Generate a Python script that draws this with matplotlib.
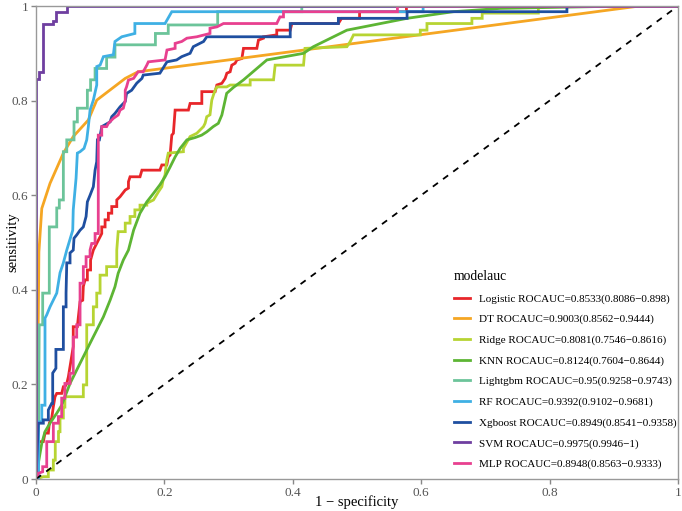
import matplotlib
matplotlib.use("Agg")
import matplotlib.pyplot as plt

plt.rcParams['font.family'] = ['Liberation Serif', 'DejaVu Serif']

model_names = ["Logistic", "DT", "Ridge", "KNN", "Lightgbm", "RF", "Xgboost", "SVM", "MLP"]
auc_vals = ["0.8533", "0.9003", "0.8081", "0.8124", "0.95", "0.9392", "0.8949", "0.9975", "0.8948"]
ci_low = ["0.8086", "0.8562", "0.7546", "0.7604", "0.9258", "0.9102", "0.8541", "0.9946", "0.8563"]
ci_high = ["0.898", "0.9444", "0.8616", "0.8644", "0.9743", "0.9681", "0.9358", "1", "0.9333"]
colors = ["#e8262a", "#f5a623", "#b7d433", "#5db534", "#6cc49a", "#3fb0e4", "#1f4fa0", "#6f3fa0", "#e8408f"]

# ROC curve vertices (fpr, tpr)
fpr_logistic = [0, 0, 0.0114, 0.014, 0.0192, 0.0207, 0.0245, 0.027, 0.0296, 0.0323, 0.040, 0.0426, 0.045, 0.0479,
                0.0504, 0.058, 0.058, 0.0644, 0.066, 0.0686, 0.0728, 0.0737, 0.0764, 0.08, 0.08, 0.085, 0.085, 0.0893,
                0.1024, 0.1024, 0.1076, 0.1076, 0.1127, 0.1127, 0.118, 0.118, 0.1258, 0.1258, 0.131, 0.139, 0.144,
                0.144, 0.1465, 0.162, 0.165, 0.193, 0.196, 0.2037, 0.206, 0.2089, 0.2115, 0.214, 0.2167, 0.2374,
                0.240, 0.2583, 0.2583, 0.279, 0.2817, 0.2895, 0.2946, 0.2973, 0.3024, 0.305, 0.3102, 0.3129, 0.3207,
                0.3232, 0.344, 0.3465, 0.3543, 0.3543, 0.375, 0.375, 0.396, 0.3986, 0.471, 0.476, 0.504, 0.504,
                0.577, 0.577, 1]
tpr_logistic = [0, 0.079, 0.079, 0.097, 0.097, 0.118, 0.129, 0.153, 0.174, 0.181, 0.181, 0.195, 0.195, 0.202,
                0.216, 0.280, 0.322, 0.322, 0.343, 0.375, 0.378, 0.407, 0.421, 0.421, 0.442, 0.442, 0.463, 0.484,
                0.519, 0.533, 0.533, 0.548, 0.548, 0.562, 0.562, 0.576, 0.576, 0.590, 0.597, 0.611, 0.615,
                0.6285, 0.639, 0.639, 0.653, 0.653, 0.664, 0.664, 0.681, 0.685, 0.727, 0.731, 0.780, 0.780,
                0.794, 0.794, 0.819, 0.819, 0.833, 0.8366, 0.847, 0.858, 0.861, 0.875, 0.879, 0.886, 0.889,
                0.9105, 0.9105, 0.928, 0.932, 0.935, 0.939, 0.949, 0.949, 0.963, 0.963, 0.974, 0.974, 0.988,
                0.988, 1, 1]

fpr_dt = [0, 0.0036, 0.0045, 0.009, 0.0218, 0.0426, 0.058, 0.0815, 0.0946, 0.139, 0.159, 0.94, 1]
tpr_dt = [0, 0.35, 0.48, 0.572, 0.625, 0.689, 0.724, 0.759, 0.801, 0.847, 0.861, 1, 1]

fpr_ridge = [0, 0.0114, 0.0192, 0.0192, 0.027, 0.027, 0.030, 0.030, 0.035, 0.035, 0.0374, 0.0374, 0.0426, 0.0426,
             0.045, 0.045, 0.0737, 0.0737, 0.079, 0.079, 0.0893, 0.0893, 0.0946, 0.0946, 0.0998, 0.0998, 0.110,
             0.110, 0.1258, 0.1258, 0.128, 0.139, 0.139, 0.1465, 0.1465, 0.154, 0.154, 0.162, 0.162, 0.1726,
             0.1726, 0.183, 0.1906, 0.196, 0.198, 0.201, 0.2037, 0.206, 0.2296, 0.2296, 0.240, 0.2505, 0.2556,
             0.2608, 0.2634, 0.266, 0.271, 0.2738, 0.2764, 0.279, 0.2817, 0.297, 0.3024, 0.3336, 0.3336, 0.370,
             0.3725, 0.4167, 0.419, 0.4843, 0.4895, 0.4946, 0.5986, 0.5986, 0.609, 0.609, 0.679, 0.679, 0.695,
             0.695, 0.7825, 0.7825, 1]
tpr_ridge = [0, 0.005, 0.005, 0.019, 0.019, 0.040, 0.040, 0.079, 0.079, 0.100, 0.100, 0.129, 0.129, 0.152,
             0.152, 0.174, 0.174, 0.199, 0.199, 0.326, 0.326, 0.364, 0.364, 0.393, 0.393, 0.431, 0.431,
             0.449, 0.449, 0.484, 0.523, 0.523, 0.541, 0.541, 0.555, 0.555, 0.569, 0.569, 0.579, 0.579,
             0.583, 0.590, 0.607, 0.618, 0.632, 0.643, 0.674, 0.689, 0.692, 0.699, 0.724, 0.731, 0.738,
             0.745, 0.752, 0.766, 0.770, 0.801, 0.812, 0.822, 0.829, 0.829, 0.833, 0.833, 0.844, 0.844,
             0.875, 0.875, 0.9105, 0.914, 0.925, 0.939, 0.939, 0.949, 0.949, 0.963, 0.963, 0.974, 0.974,
             0.985, 0.985, 1, 1]

fpr_knn = [0, 0.0036, 0.009, 0.014, 0.0218, 0.0323, 0.040, 0.053, 0.0686, 0.0842, 0.0946, 0.105, 0.1154, 0.123,
           0.128, 0.136, 0.144, 0.152, 0.162, 0.1726, 0.183, 0.193, 0.201, 0.209, 0.2167, 0.2245, 0.235, 0.248,
           0.258, 0.266, 0.276, 0.284, 0.2895, 0.297, 0.3076, 0.323, 0.3596, 0.4167, 0.432, 0.4843, 0.578, 0.650,
           0.723, 0.879, 1]
tpr_knn = [0, 0.033, 0.0755, 0.100, 0.118, 0.139, 0.156, 0.202, 0.2446, 0.287, 0.315, 0.343, 0.378, 0.4066,
           0.435, 0.463, 0.484, 0.526, 0.562, 0.586, 0.604, 0.622, 0.639, 0.660, 0.681, 0.699, 0.717, 0.722,
           0.727, 0.734, 0.745, 0.752, 0.7696, 0.8154, 0.828, 0.8436, 0.886, 0.900, 0.914, 0.949, 0.974, 0.988,
           0.995, 0.999, 1]

fpr_lgbm = [0, 0.004, 0.005, 0.0104, 0.0104, 0.0207, 0.0207, 0.0323, 0.0323, 0.0363, 0.0363, 0.0426, 0.0426,
            0.0479, 0.0479, 0.0592, 0.0592, 0.0644, 0.0644, 0.080, 0.080, 0.085, 0.085, 0.092, 0.092, 0.110, 0.110,
            0.123, 0.123, 0.186, 0.186, 0.206, 0.206, 0.283, 0.283, 0.414, 0.414, 1]
tpr_lgbm = [0, 0.12, 0.326, 0.326, 0.393, 0.393, 0.533, 0.533, 0.573, 0.573, 0.590, 0.590, 0.692,
            0.692, 0.717, 0.717, 0.755, 0.755, 0.784, 0.784, 0.822, 0.822, 0.844, 0.844, 0.868, 0.868, 0.892,
            0.892, 0.918, 0.918, 0.942, 0.942, 0.960, 0.960, 0.988, 0.988, 1, 1]

fpr_rf = [0, 0.004, 0.004, 0.009, 0.009, 0.014, 0.014, 0.0167, 0.0218, 0.0323, 0.0374, 0.0426, 0.0479, 0.0572,
          0.058, 0.0624, 0.0644, 0.0686, 0.0748, 0.079, 0.0815, 0.0842, 0.0893, 0.0946, 0.0946, 0.0998, 0.105,
          0.1205, 0.123, 0.1336, 0.154, 0.154, 0.201, 0.2115, 0.603, 0.603, 1]
tpr_rf = [0, 0, 0.121, 0.121, 0.156, 0.156, 0.340, 0.347, 0.364, 0.393, 0.436, 0.457, 0.484, 0.526,
          0.569, 0.636, 0.689, 0.692, 0.699, 0.717, 0.745, 0.780, 0.801, 0.833, 0.872, 0.875, 0.893,
          0.897, 0.925, 0.935, 0.942, 0.963, 0.963, 0.988, 0.988, 1, 1]

fpr_xgb = [0, 0.0036, 0.0114, 0.0114, 0.0192, 0.0192, 0.0245, 0.026, 0.026, 0.031, 0.031, 0.0426, 0.0426, 0.0468,
           0.0468, 0.0479, 0.053, 0.053, 0.058, 0.0592, 0.0634, 0.0686, 0.0737, 0.078, 0.08, 0.0842, 0.0893, 0.092,
           0.0946, 0.0956, 0.0987, 0.1024, 0.1154, 0.118, 0.123, 0.131, 0.139, 0.141, 0.149, 0.157, 0.165, 0.167,
           0.193, 0.204, 0.219, 0.227, 0.240, 0.245, 0.261, 0.266, 0.396, 0.396, 0.471, 0.471, 0.578, 0.578,
           0.827, 0.827, 1]
tpr_xgb = [0, 0.118, 0.118, 0.125, 0.125, 0.146, 0.160, 0.160, 0.224, 0.234, 0.274, 0.274, 0.364, 0.364,
           0.393, 0.457, 0.457, 0.478, 0.484, 0.509, 0.516, 0.526, 0.533, 0.555, 0.586, 0.600, 0.618, 0.653,
           0.671, 0.717, 0.717, 0.745, 0.755, 0.766, 0.773, 0.787, 0.798, 0.815, 0.822, 0.837, 0.847, 0.854,
           0.858, 0.882, 0.886, 0.893, 0.900, 0.914, 0.925, 0.935, 0.935, 0.963, 0.963, 0.974, 0.974, 0.988,
           0.988, 1, 1]

fpr_svm = [0, 0, 0.005, 0.005, 0.0104, 0.0104, 0.026, 0.026, 0.031, 0.031, 0.048, 0.048, 1]
tpr_svm = [0, 0.845, 0.845, 0.861, 0.861, 0.962, 0.962, 0.968, 0.968, 0.987, 0.987, 1, 1]

fpr_mlp = [0, 0.0036, 0.0104, 0.0104, 0.0167, 0.0167, 0.027, 0.027, 0.0348, 0.0348, 0.040, 0.040, 0.045, 0.045,
           0.053, 0.053, 0.058, 0.058, 0.0634, 0.0634, 0.0686, 0.0686, 0.0737, 0.0737, 0.078, 0.078, 0.0842,
           0.0842, 0.0868, 0.092, 0.092, 0.097, 0.097, 0.1024, 0.1024, 0.110, 0.1127, 0.1205, 0.128, 0.131,
           0.136, 0.139, 0.139, 0.141, 0.144, 0.152, 0.159, 0.167, 0.1726, 0.175, 0.201, 0.204, 0.2167, 0.2167,
           0.227, 0.235, 0.2505, 0.271, 0.271, 0.282, 0.292, 0.375, 0.380, 0.3855, 0.3855, 0.563, 0.563, 1]
tpr_mlp = [0, 0.012, 0.0154, 0.026, 0.026, 0.079, 0.079, 0.118, 0.118, 0.132, 0.132, 0.171, 0.171, 0.202,
           0.202, 0.2235, 0.2235, 0.300, 0.300, 0.326, 0.326, 0.414, 0.414, 0.449, 0.449, 0.470, 0.470,
           0.484, 0.498, 0.498, 0.519, 0.519, 0.727, 0.727, 0.745, 0.745, 0.752, 0.7625, 0.7696, 0.780,
           0.784, 0.801, 0.822, 0.829, 0.8435, 0.847, 0.861, 0.861, 0.875, 0.882, 0.886, 0.907, 0.9105, 0.921,
           0.925, 0.932, 0.935, 0.942, 0.953, 0.956, 0.963, 0.963, 0.977, 0.977, 0.988, 0.988, 1, 1]

fprs = [fpr_logistic, fpr_dt, fpr_ridge, fpr_knn, fpr_lgbm, fpr_rf, fpr_xgb, fpr_svm, fpr_mlp]
tprs = [tpr_logistic, tpr_dt, tpr_ridge, tpr_knn, tpr_lgbm, tpr_rf, tpr_xgb, tpr_svm, tpr_mlp]

fig = plt.figure(figsize=(6.82, 5.11), dpi=100)
ax = fig.add_axes([0.0528, 0.0626, 0.9413, 0.9256])

for i in range(len(model_names)):
    label = model_names[i] + " ROCAUC=" + auc_vals[i] + "(" + ci_low[i] + "\u2212" + ci_high[i] + ")"
    ax.plot(fprs[i], tprs[i], color=colors[i], linewidth=2.0, label=label, solid_joinstyle='miter')

ax.plot([0, 1], [0, 1], color='black', linestyle=(0, (3.5, 3.5)), linewidth=1.3)

ax.set_xlim(0, 1)
ax.set_ylim(0, 1)
ticks = [0, 0.2, 0.4, 0.6, 0.8, 1]
tick_labels = ["0", "0.2", "0.4", "0.6", "0.8", "1"]
ax.set_xticks(ticks)
ax.set_xticklabels(tick_labels)
ax.set_yticks(ticks)
ax.set_yticklabels(tick_labels)
ax.tick_params(colors='#888888', labelcolor='#555555', labelsize=9.5, length=3.5, width=1, direction='out', pad=2)
for s in ax.spines.values():
    s.set_color('#999999')
    s.set_linewidth(1.0)

# axis titles placed where the reference has them
fig.text(357 / 682, 1 - 502 / 511, "1 \u2212 specificity", fontsize=10.5, ha='center', va='center')
fig.text(13 / 682, 1 - 242 / 511, "sensitivity", fontsize=10.5, rotation=90, ha='center', va='center')

leg = ax.legend(loc='upper left', bbox_to_anchor=(0.635, 0.463), frameon=False, fontsize=8.0,
                title="modelauc", title_fontsize=9.8, alignment='left', handlelength=1.5,
                handletextpad=0.75, labelspacing=0.96, borderpad=0.4)

plt.savefig("out.png", dpi=100)
